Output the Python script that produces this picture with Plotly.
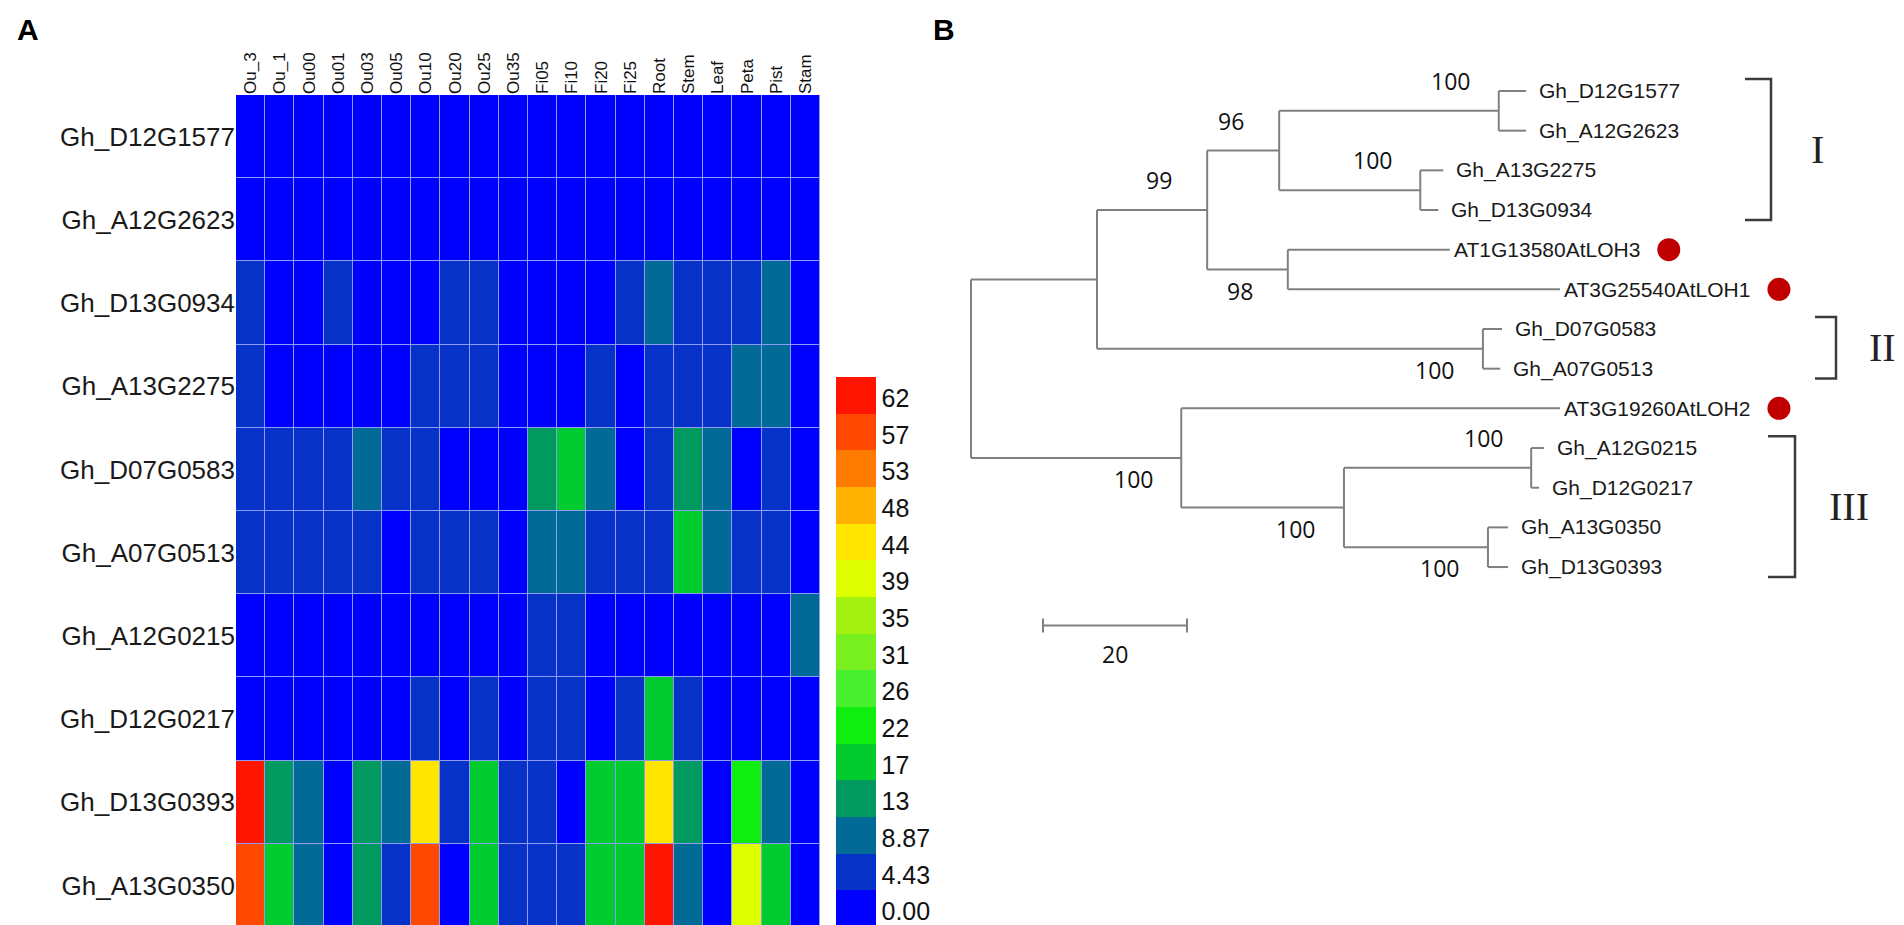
import plotly.graph_objects as go

W, H = 1904, 925

# ---- panel A: expression heatmap ----
tissues = ["Ou_3", "Ou_1", "Ou00", "Ou01", "Ou03", "Ou05", "Ou10", "Ou20", "Ou25", "Ou35",
           "Fi05", "Fi10", "Fi20", "Fi25", "Root", "Stem", "Leaf", "Peta", "Pist", "Stam"]

genes = ["Gh_D12G1577", "Gh_A12G2623", "Gh_D13G0934", "Gh_A13G2275", "Gh_D07G0583",
         "Gh_A07G0513", "Gh_A12G0215", "Gh_D12G0217", "Gh_D13G0393", "Gh_A13G0350"]

expr_D12G1577 = [0.8, 1.1, 0.6, 1.4, 0.9, 1.2, 1.6, 1.3, 0.7, 1.0, 1.5, 1.8, 1.1, 0.9, 2.0, 1.7, 1.3, 0.8, 1.2, 0.5]
expr_A12G2623 = [1.0, 0.7, 1.3, 1.1, 0.6, 1.4, 1.9, 1.2, 0.9, 0.8, 1.3, 1.6, 1.4, 1.0, 2.2, 1.5, 1.1, 0.9, 1.0, 0.6]
expr_D13G0934 = [5.9, 2.1, 1.8, 6.8, 2.6, 1.4, 2.2, 5.2, 5.6, 2.4, 1.6, 1.9, 3.1, 5.0, 10.2, 6.1, 5.8, 6.4, 9.8, 0.9]
expr_A13G2275 = [5.4, 2.3, 1.7, 2.0, 2.8, 1.5, 5.1, 5.9, 6.2, 2.5, 1.8, 2.6, 5.3, 2.9, 6.6, 6.0, 5.5, 10.4, 9.6, 0.7]
expr_D07G0583 = [6.0, 6.3, 5.7, 6.9, 10.8, 7.2, 5.5, 2.7, 2.4, 2.0, 15.1, 19.8, 9.4, 3.0, 6.5, 14.6, 10.1, 2.8, 6.2, 1.1]
expr_A07G0513 = [6.4, 6.8, 6.1, 5.6, 7.0, 2.9, 6.3, 5.8, 6.7, 3.2, 11.2, 10.6, 6.0, 5.4, 6.8, 19.2, 10.3, 6.1, 5.9, 1.3]
expr_A12G0215 = [1.2, 1.6, 0.9, 1.4, 2.1, 1.8, 2.5, 2.2, 3.0, 3.8, 5.1, 5.4, 2.6, 2.0, 1.9, 1.1, 0.8, 1.5, 2.3, 10.5]
expr_D12G0217 = [1.0, 1.3, 1.7, 2.4, 2.9, 3.3, 5.2, 3.1, 5.6, 2.8, 5.4, 5.9, 3.4, 5.3, 19.0, 5.7, 2.2, 1.6, 2.5, 0.8]
expr_D13G0393 = [64.0, 15.3, 10.7, 3.2, 14.8, 10.2, 45.8, 6.6, 19.4, 6.2, 5.8, 3.4, 19.7, 20.1, 45.2, 14.9, 2.7, 23.8, 10.9, 1.2]
expr_A13G0350 = [59.2, 19.6, 10.4, 2.9, 15.0, 6.4, 59.8, 3.6, 19.9, 6.8, 6.1, 5.5, 19.3, 19.8, 64.3, 10.6, 2.4, 41.2, 19.1, 1.4]

expr = [expr_D12G1577, expr_A12G2623, expr_D13G0934, expr_A13G2275, expr_D07G0583,
        expr_A07G0513, expr_A12G0215, expr_D12G0217, expr_D13G0393, expr_A13G0350]

# colour key: 15 steps of 4.43
cbar_labels = ["0.00", "4.43", "8.87", "13", "17", "22", "26", "31", "35", "39", "44", "48", "53", "57", "62"]
cbar_colors = ["#0000ff", "#0632c8", "#026a96", "#00995f", "#00cc30", "#10ee10", "#48f030", "#78f020",
               "#a4f010", "#ddff00", "#ffe600", "#ffb000", "#ff7a00", "#ff4800", "#ff1400"]
cbar_step = 4.435

# ---- panel B: neighbour-joining tree ----
leaf_names = ["Gh_D12G1577", "Gh_A12G2623", "Gh_A13G2275", "Gh_D13G0934", "AT1G13580AtLOH3",
              "AT3G25540AtLOH1", "Gh_D07G0583", "Gh_A07G0513", "AT3G19260AtLOH2", "Gh_A12G0215",
              "Gh_D12G0217", "Gh_A13G0350", "Gh_D13G0393"]
leaf_parent = ["G", "G", "H", "H", "D", "D", "I", "I", "E", "J", "J", "K", "K"]
leaf_branch = [3.8, 3.8, 3.2, 2.5, 22.5, 37.8, 2.65, 2.4, 52.6, 1.8, 1.1, 2.8, 2.8]

node_names = ["R", "A", "B", "C", "G", "H", "D", "I", "E", "F", "J", "K"]
node_parent = [None, "R", "A", "B", "C", "C", "B", "A", "R", "E", "F", "F"]
node_branch = [0.0, 17.5, 15.3, 10.0, 30.5, 19.6, 11.2, 53.6, 29.2, 22.6, 26.0, 20.0]
node_boot = [None, None, 99, 96, 100, 100, 98, 100, 100, 100, 100, 100]
boot_side = [None, None, "above", "above", "above", "above", "below", "below", "below", "below", "above", "below"]

marked_leaves = ["AT1G13580AtLOH3", "AT3G25540AtLOH1", "AT3G19260AtLOH2"]

clade_names = ["I", "II", "III"]
clade_first = ["Gh_D12G1577", "Gh_D07G0583", "Gh_A12G0215"]
clade_last = ["Gh_D13G0934", "Gh_A07G0513", "Gh_D13G0393"]

scale_len = 20

# ---- tree geometry (pixel layout of panel B) ----
ROOT_PX, PX_PER_UNIT = 963, 7.2
LEAF0_PX, LEAF_PITCH = 83, 39.67
TREE_LEFT_PX = 920


def u_from_px(px):
    return (px - ROOT_PX) / PX_PER_UNIT


def v_from_px(py):
    return (py - LEAF0_PX) / LEAF_PITCH


parent = dict(zip(node_names, node_parent))
parent.update(zip(leaf_names, leaf_parent))
branch = dict(zip(node_names, node_branch))
branch.update(zip(leaf_names, leaf_branch))
children = {n: [] for n in node_names}
for n in node_names[1:] + leaf_names:
    children[parent[n]].append(n)

ypos = {n: i for i, n in enumerate(leaf_names)}


def get_y(n):
    if n not in ypos:
        ypos[n] = sum(get_y(c) for c in children[n]) / len(children[n])
    return ypos[n]


depth = {}


def get_depth(n):
    if n not in depth:
        p = parent[n]
        depth[n] = 0.0 if p is None else get_depth(p) + branch[n]
    return depth[n]


for n in node_names + leaf_names:
    get_y(n)
    get_depth(n)

lx, ly = [], []
for n in node_names[1:] + leaf_names:
    lx += [depth[parent[n]], depth[n], None]
    ly += [ypos[n], ypos[n], None]
for n in node_names:
    cy = [ypos[c] for c in children[n]]
    lx += [depth[n], depth[n], None]
    ly += [min(cy), max(cy), None]

fig = go.Figure()

cs = []
for i, c in enumerate(cbar_colors):
    cs.append([i / len(cbar_colors), c])
    cs.append([(i + 1) / len(cbar_colors), c])

fig.add_trace(go.Heatmap(
    z=expr, x=tissues, y=genes,
    colorscale=cs, zmin=0, zmax=cbar_step * len(cbar_colors),
    xgap=1, ygap=1,
    colorbar=dict(
        x=828 / W, xanchor="left", y=1 - 919 / H, yanchor="bottom",
        len=550 / H, lenmode="fraction", thickness=40, thicknessmode="pixels",
        xpad=0, ypad=0, outlinewidth=0, ticks="",
        tickvals=[(i + 0.42) * cbar_step for i in range(len(cbar_labels))],
        ticktext=cbar_labels,
        tickfont=dict(family="Liberation Sans, Arial", size=25, color="#111"),
    ),
    hovertemplate="%{y} %{x}: %{z}<extra></extra>",
))

fig.add_trace(go.Scatter(
    x=lx, y=ly, mode="lines", xaxis="x2", yaxis="y2",
    line=dict(color="#808080", width=2), hoverinfo="skip", showlegend=False,
))

# scale bar
sb_x0 = u_from_px(1035)
sb_y = v_from_px(617.6)
tick_h = 7 / LEAF_PITCH
fig.add_trace(go.Scatter(
    x=[sb_x0, sb_x0 + scale_len, None, sb_x0, sb_x0, None, sb_x0 + scale_len, sb_x0 + scale_len],
    y=[sb_y, sb_y, None, sb_y - tick_h, sb_y + tick_h, None, sb_y - tick_h, sb_y + tick_h],
    mode="lines", xaxis="x2", yaxis="y2",
    line=dict(color="#808080", width=2), hoverinfo="skip", showlegend=False,
))

# red dots for Arabidopsis LOH genes
dot_off = 219 / PX_PER_UNIT
fig.add_trace(go.Scatter(
    x=[depth[n] + dot_off for n in marked_leaves],
    y=[ypos[n] for n in marked_leaves],
    mode="markers", xaxis="x2", yaxis="y2",
    marker=dict(color="#c00000", size=23), hoverinfo="skip", showlegend=False,
))

# clade brackets
bracket_px = {"I": (1737, 1763), "II": (1807, 1828), "III": (1760, 1787)}
label_px = {"I": 1809, "II": 1874, "III": 1841}
bx, by = [], []
annotations = []
for name, first, last in zip(clade_names, clade_first, clade_last):
    x0, x1 = u_from_px(bracket_px[name][0]), u_from_px(bracket_px[name][1])
    y0, y1 = ypos[first] - 0.3, ypos[last] + 0.25
    bx += [x0, x1, x1, x0, None]
    by += [y0, y0, y1, y1, None]
    annotations.append(dict(
        x=u_from_px(label_px[name]), y=(y0 + y1) / 2, xref="x2", yref="y2",
        text=name, showarrow=False, xanchor="center", yanchor="middle",
        font=dict(family="Liberation Serif, Times New Roman", size=40, color="#222"),
    ))
fig.add_trace(go.Scatter(
    x=bx, y=by, mode="lines", xaxis="x2", yaxis="y2",
    line=dict(color="#3c3c3c", width=2.5), hoverinfo="skip", showlegend=False,
))

for n in leaf_names:
    annotations.append(dict(
        x=depth[n], y=ypos[n], xref="x2", yref="y2", text=n, showarrow=False,
        xanchor="left", yanchor="middle", xshift=2 if n.startswith("AT") else 11,
        font=dict(family="Liberation Sans, Arial", size=21, color="#1a1a1a"),
    ))

for n, b, side in zip(node_names, node_boot, boot_side):
    if b is None:
        continue
    annotations.append(dict(
        x=depth[n], y=ypos[n], xref="x2", yref="y2", text=str(b), showarrow=False,
        xanchor="center", yanchor="middle", xshift=-48,
        yshift=30 if side == "above" else -21,
        font=dict(family="Open Sans, Liberation Sans", size=23, color="#111"),
    ))

annotations.append(dict(
    x=sb_x0 + scale_len / 2, y=v_from_px(646), xref="x2", yref="y2", text=str(scale_len),
    showarrow=False, xanchor="center", yanchor="middle",
    font=dict(family="Open Sans, Liberation Sans", size=23, color="#111"),
))

# panel letters
for letter, px in (("A", 20), ("B", 936)):
    annotations.append(dict(
        x=px / W, y=1 - 22 / H, xref="paper", yref="paper", text=f"<b>{letter}</b>",
        showarrow=False, xanchor="center", yanchor="middle",
        font=dict(family="Liberation Sans, Arial", size=30, color="#000"),
    ))

fig.update_layout(
    width=W, height=H,
    margin=dict(l=0, r=0, t=0, b=0),
    paper_bgcolor="white",
    plot_bgcolor="#8c9cf4",
    showlegend=False,
    annotations=annotations,
    shapes=[dict(type="rect", xref="x2 domain", yref="y2 domain", x0=0, x1=1, y0=0, y1=1,
                 fillcolor="white", line=dict(width=0), layer="below")],
    xaxis=dict(
        domain=[228 / W, 812 / W], side="top", tickangle=-90, ticks="", showgrid=False,
        zeroline=False, showline=False,
        tickfont=dict(family="Liberation Sans, Arial", size=17, color="#111"),
    ),
    yaxis=dict(
        domain=[1 - 919 / H, 1 - 87 / H], autorange="reversed", ticks="", showgrid=False,
        zeroline=False, showline=False,
        tickfont=dict(family="Liberation Sans, Arial", size=26, color="#1a1a1a"),
    ),
    xaxis2=dict(
        domain=[TREE_LEFT_PX / W, 1.0], range=[u_from_px(TREE_LEFT_PX), u_from_px(W)],
        visible=False, anchor="y2",
    ),
    yaxis2=dict(
        domain=[0, 1], range=[v_from_px(H), v_from_px(0)], visible=False, anchor="x2",
    ),
)

fig.write_html("out.html")
